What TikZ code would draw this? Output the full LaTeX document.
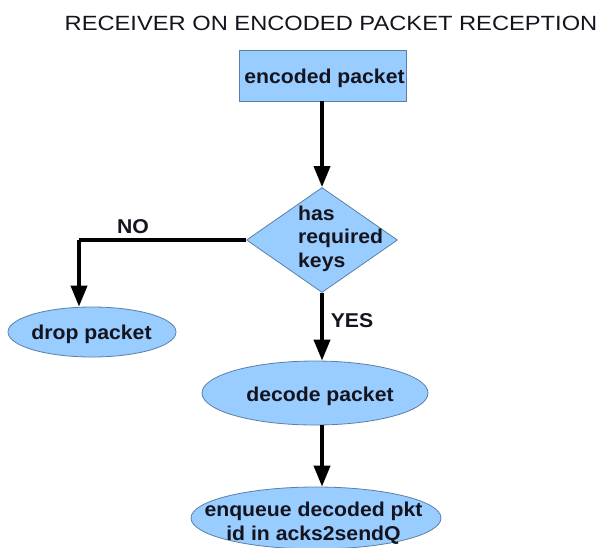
\documentclass[tikz,border=0pt]{standalone}
\usepackage{fontspec}
\setmainfont{Liberation Sans}
\newfontfamily\titlesans[FakeStretch=1.15]{Liberation Sans}
\newfontfamily\boxsans[FakeStretch=1.06]{Liberation Sans}
\usetikzlibrary{shapes.geometric,arrows.meta}
\definecolor{boxfill}{HTML}{99CCFF}
\definecolor{boxline}{HTML}{5A7FA8}
\definecolor{ink}{HTML}{14141F}
\tikzset{
  x=1pt, y=-1pt,
  blk/.style={fill=boxfill, draw=boxline, line width=0.8pt, inner sep=0pt},
  rectbox/.style={blk, rectangle},
  oval/.style={blk, ellipse},
  decision/.style={blk, diamond},
  txt/.style={text=ink, font=\boxsans\bfseries\fontsize{20}{23.5}\selectfont, inner sep=0pt, anchor=base},
  flow/.style={line width=3.8pt, -{Triangle[length=21pt, width=16pt]}}
}
\begin{document}
\begin{tikzpicture}
\useasboundingbox (0,0) rectangle (601,547);
\clip (0,0) rectangle (601,547);
% heading
\node[text=ink, font=\titlesans\fontsize{20.6}{22}\selectfont, inner sep=0pt, anchor=base] (title) at (331,30) {RECEIVER ON ENCODED PACKET RECEPTION};

% shapes
\node[rectbox, minimum width=167pt, minimum height=51pt] (enc) at (322.5,75.5) {};
\node[decision, minimum width=151pt, minimum height=105pt, shape aspect=1.44] (keys) at (322,240) {};
\node[oval, minimum width=168pt, minimum height=50pt] (drop) at (92,332) {};
\node[oval, minimum width=226pt, minimum height=64pt] (dec) at (315,393) {};
\node[oval, minimum width=250pt, minimum height=62pt] (enq) at (316,518) {};

% texts
\node[txt] (enctxt) at (324.5,83.3) {encoded packet};
\node[txt, anchor=base west] (keys1) at (298,220) {has};
\node[txt, anchor=base west] (keys2) at (298,243) {required};
\node[txt, anchor=base west] (keys3) at (298,267) {keys};
\node[txt] (droptxt) at (91.5,339.3) {drop packet};
\node[txt] (dectxt) at (320,401) {decode packet};
\node[txt] (enq1) at (313.5,516) {enqueue decoded pkt};
\node[txt] (enq2) at (313.5,540) {id in acks2sendQ};

% connectors
\coordinate (corner) at (79,240);
\draw[flow] (enc.south -| keys.north) -- (keys.north);
\draw[line width=3.6pt] (keys.west) -- (corner);
\draw[flow] (corner) -- (corner |- drop.north);
\draw[flow] (keys.south) -- (keys.south |- dec.north);
\draw[flow] (dec.south -| keys.south) -- (keys.south |- enq.north);

\node[txt] (no) at (133,233) {NO};
\node[txt] (yes) at (352,327) {YES};
\end{tikzpicture}
\end{document}
